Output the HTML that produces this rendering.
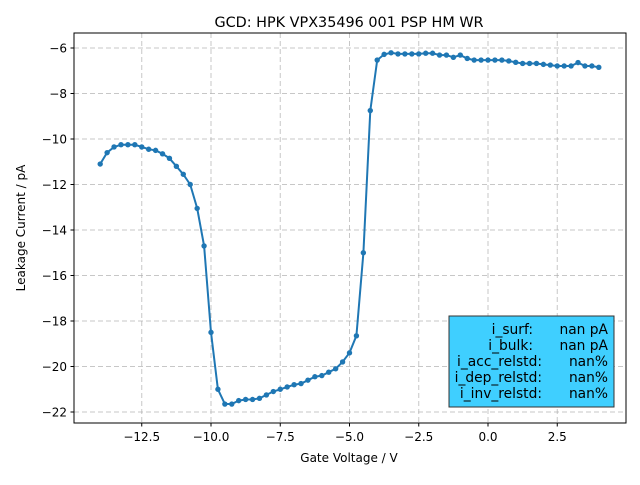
<!DOCTYPE html>
<html><head><meta charset="utf-8"><style>
body{margin:0;background:#fff}
svg text{font-family:"DejaVu Sans","Liberation Sans",sans-serif;fill:#000}
</style></head><body>
<svg id="chart" width="640" height="480" xmlns="http://www.w3.org/2000/svg">
<rect x="0" y="0" width="640" height="480" fill="#fff"/>
<text x="349" y="27" font-size="14.4" text-anchor="middle">GCD: HPK VPX35496 001 PSP HM WR</text>
<g id="grid"></g>
<g id="series"></g>
<rect x="74" y="33" width="552" height="390" fill="none" stroke="#000" stroke-width="1"/>
<g id="axes"></g>
<text x="349" y="462" font-size="12" text-anchor="middle">Gate Voltage / V</text>
<text transform="translate(25,228) rotate(-90)" font-size="12" text-anchor="middle">Leakage Current / pA</text>
<g>
<rect x="449" y="316" width="165" height="91" fill="#3fcfff" stroke="#333" stroke-width="1"/>
<g font-size="13.8">
<text x="533" y="334" text-anchor="end">i_surf:</text><text x="608" y="334" text-anchor="end">nan pA</text>
<text x="533" y="350" text-anchor="end">i_bulk:</text><text x="608" y="350" text-anchor="end">nan pA</text>
<text x="542" y="366" text-anchor="end">i_acc_relstd:</text><text x="608" y="366" text-anchor="end">nan%</text>
<text x="542" y="382" text-anchor="end">i_dep_relstd:</text><text x="608" y="382" text-anchor="end">nan%</text>
<text x="542" y="398" text-anchor="end">i_inv_relstd:</text><text x="608" y="398" text-anchor="end">nan%</text>
</g></g>
</svg>
<script>
const voltages = [];
for (let i = 0; i < 73; i++) voltages.push(-14 + i * 0.25);
const currents = [-11.1,-10.6,-10.35,-10.25,-10.25,-10.25,-10.35,-10.45,-10.5,-10.65,-10.85,-11.2,-11.55,-12.0,-13.05,-14.7,-18.5,-21.0,-21.65,-21.65,-21.5,-21.45,-21.45,-21.4,-21.25,-21.1,-21.0,-20.9,-20.8,-20.75,-20.6,-20.45,-20.4,-20.25,-20.1,-19.8,-19.4,-18.65,-15.0,-8.75,
-6.53,-6.28,-6.21,-6.26,-6.26,-6.26,-6.26,-6.23,-6.23,-6.31,-6.31,-6.41,-6.31,-6.46,-6.53,-6.53,-6.53,-6.53,-6.53,-6.57,-6.63,-6.68,-6.68,-6.68,-6.72,-6.75,-6.79,-6.79,-6.79,-6.64,-6.79,-6.79,-6.85];
const xTicks = [-12.5,-10,-7.5,-5,-2.5,0,2.5];
const xTickLabels = ["−12.5","−10.0","−7.5","−5.0","−2.5","0.0","2.5"];
const yTicks = [-22,-20,-18,-16,-14,-12,-10,-8,-6];
const yTickLabels = ["−22","−20","−18","−16","−14","−12","−10","−8","−6"];
const NS="http://www.w3.org/2000/svg";
const X = v => 488 + v * 27.7;
const Y = v => 48 - (v + 6) * 22.75;
const grid=document.getElementById('grid'), axes=document.getElementById('axes'), series=document.getElementById('series');
function mk(tag, attrs, parent){const e=document.createElementNS(NS,tag);for(const k in attrs)e.setAttribute(k,attrs[k]);parent.appendChild(e);return e;}
xTicks.forEach((t,i)=>{
  const x=X(t);
  const g=mk('line',{x1:x,x2:x,y1:33,y2:423,stroke:'#b0b0b0','stroke-width':1,'stroke-dasharray':'5,3',opacity:0.7},grid);
  
  
  const tk=mk('line',{x1:x,x2:x,y1:423,y2:426.5,stroke:'#000'},axes);
  
  
  const tx=mk('text',{x:x,y:441,'font-size':12,'text-anchor':'middle'},axes);
  tx.textContent=xTickLabels[i];
  
  
});
yTicks.forEach((t,i)=>{
  const y=Y(t);
  const g=mk('line',{x1:74,x2:626,y1:y,y2:y,stroke:'#b0b0b0','stroke-width':1,'stroke-dasharray':'5,3',opacity:0.7},grid);
  
  
  const tk=mk('line',{x1:70.5,x2:74,y1:y,y2:y,stroke:'#000'},axes);
  
  
  const tx=mk('text',{x:67,y:y+4.5,'font-size':12,'text-anchor':'end'},axes);
  tx.textContent=yTickLabels[i];
  
  
});
const pts=voltages.map((v,i)=>X(v).toFixed(1)+','+Y(currents[i]).toFixed(1)).join(' ');
const pl=mk('polyline',{points:pts,fill:'none',stroke:'#1f77b4','stroke-width':2},series);


voltages.forEach((v,i)=>{
  const c=mk('circle',{cx:X(v),cy:Y(currents[i]),r:2.7,fill:'#1f77b4'},series);
  
  
});
</script>
</body></html>
